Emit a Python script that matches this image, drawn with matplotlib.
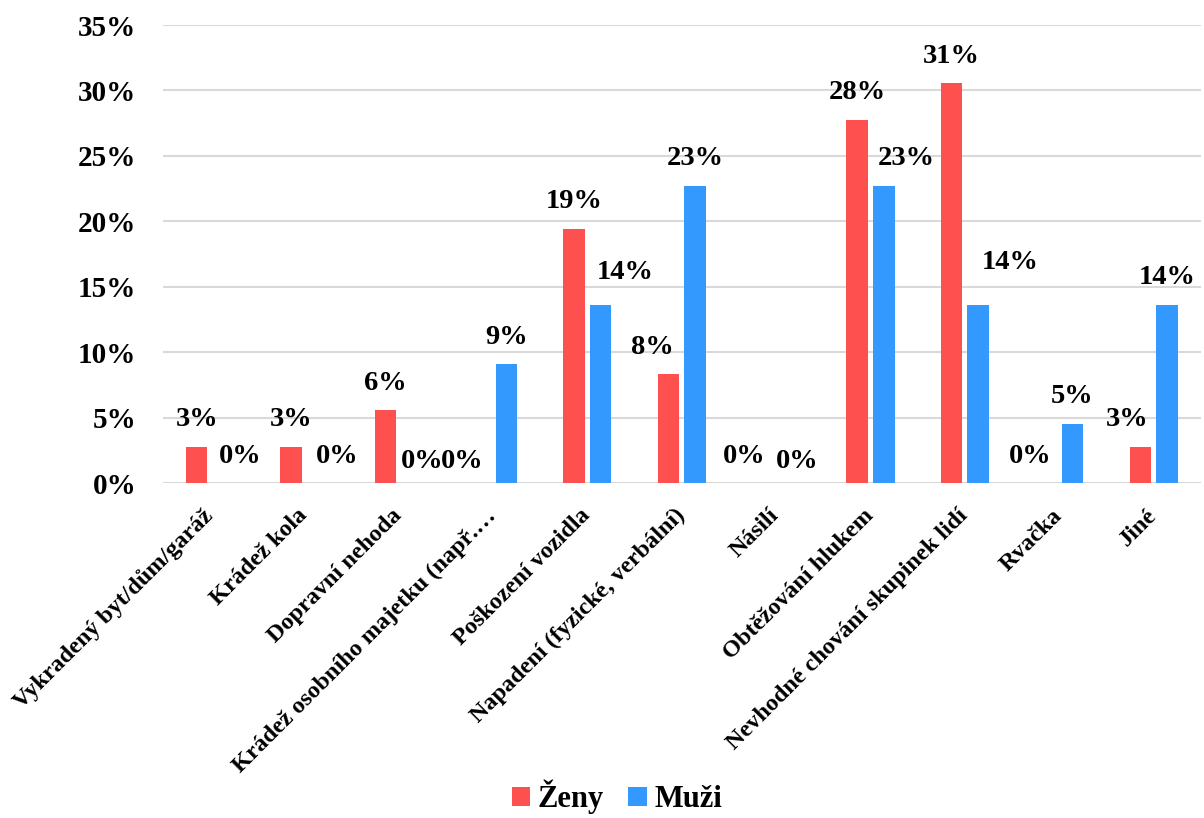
import matplotlib
matplotlib.use("Agg")
import matplotlib.pyplot as plt
import numpy as np

# data (shares in %)
kategorie = ["Vykradený byt/dům/garáž", "Krádež kola", "Dopravní nehoda",
             "Krádež osobního majetku (např.…", "Poškození vozidla",
             "Napadení (fyzické, verbální)", "Násilí", "Obtěžování hlukem",
             "Nevhodné chování skupinek lidí", "Rvačka", "Jiné"]
zeny = [2.78, 2.78, 5.56, 0.0, 19.44, 8.33, 0.0, 27.78, 30.56, 0.0, 2.78]
muzi = [0.0, 0.0, 0.0, 9.09, 13.64, 22.73, 0.0, 22.73, 13.64, 4.55, 13.64]

# label nudges (pixels), like Excel moved them to avoid overlaps
zeny_dx = [0, 0, 0, -18, 0, -16, -19, 0, 0, -16, -13]
zeny_dy = [0, 0, 0, -5, 0, 0, 0, 0, 0, 0, 0]
muzi_dx = [17, 20, 10, 0, 25, 0, 8, 23, 32, 0, 0]
muzi_dy = [0, 0, -5, 0, 5, 0, -5, 0, 15, 0, 0]

CERVENA = "#FF5050"
MODRA = "#3399FF"
plt.rcParams["font.family"] = ["Liberation Serif", "DejaVu Serif"]
plt.rcParams["font.weight"] = "bold"

fig = plt.figure(figsize=(12.04, 8.18), dpi=100)
ax = fig.add_axes([0.1352, 0.4092, 0.8621, 0.5602])

x = np.arange(len(kategorie))
w = 0.228
b1 = ax.bar(x - 0.1405, zeny, w, color=CERVENA, label="Ženy", zorder=3)
b2 = ax.bar(x + 0.1405, muzi, w, color=MODRA, label="Muži", zorder=3)

for bars, vals, dxs, dys in [(b1, zeny, zeny_dx, zeny_dy), (b2, muzi, muzi_dx, muzi_dy)]:
    for r, v, dx, dy in zip(bars, vals, dxs, dys):
        ax.annotate(f"{v:.0f}%", (r.get_x() + r.get_width() / 2, v),
                    xytext=(dx, 27 + dy), textcoords="offset pixels",
                    ha="center", va="center", fontsize=20.5, fontweight="bold")

ax.set_xlim(-0.5, len(kategorie) - 0.5)
ax.set_ylim(0, 35)
ax.set_yticks(np.arange(0, 36, 5))
ax.set_yticklabels([f"{t}%" for t in range(0, 36, 5)], fontsize=21, fontweight="bold")
ax.yaxis.grid(True, color="#D9D9D9", linewidth=1.5, zorder=0)
ax.set_axisbelow(True)
for s in ax.spines.values():
    s.set_visible(False)
ax.tick_params(axis="y", length=0, pad=19)
ax.tick_params(axis="x", length=0, pad=21)
ax.set_xticks(x)
ax.set_xticklabels(kategorie, rotation=45, ha="right", va="center",
                   rotation_mode="anchor", fontsize=17.5, fontweight="bold")

fig.legend(handles=[b1, b2], loc="center", bbox_to_anchor=(0.5125, 0.026),
           ncol=2, frameon=False, handlelength=0.6, handleheight=0.6,
           handletextpad=0.25, columnspacing=0.8, prop={"size": 22, "weight": "bold"})

fig.savefig("out.png", dpi=100)
